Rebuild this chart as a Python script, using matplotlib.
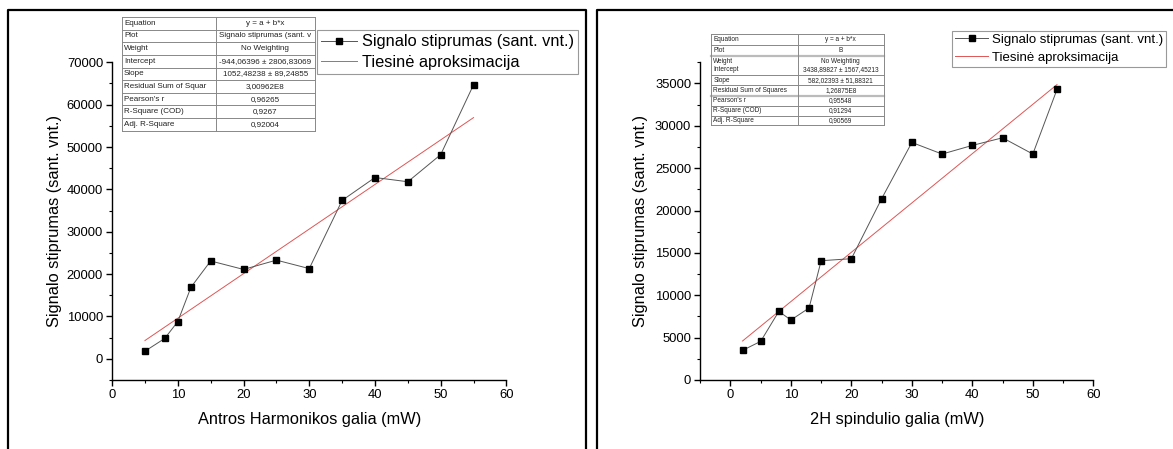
import numpy as np
import matplotlib
matplotlib.use("Agg")
import matplotlib.pyplot as plt
from matplotlib.ticker import MultipleLocator
from matplotlib.patches import Rectangle

plt.rcParams['font.family'] = ['Liberation Sans', 'DejaVu Sans']

# left chart data
galia_sh = [5, 8, 10, 12, 15, 20, 25, 30, 35, 40, 45, 50, 55]
signalas_sh = [1800, 4800, 8800, 16900, 23100, 21100, 23300, 21300,
               37400, 42800, 41800, 48200, 64700]
fit1_a = -944.06396
fit1_b = 1052.48238

# right chart data
galia_2h = [2, 5, 8, 10, 13, 15, 20, 25, 30, 35, 40, 45, 50, 54]
signalas_2h = [3500, 4560, 8100, 7080, 8500, 14080, 14320, 21400,
               28040, 26670, 27690, 28590, 26670, 34300]
fit2_a = 3438.89827
fit2_b = 582.02393

# fit result tables
tab1_labels = ["Equation", "Plot", "Weight", "Intercept", "Slope",
               "Residual Sum of Squar", "Pearson's r", "R-Square (COD)",
               "Adj. R-Square"]
tab1_values = ["y = a + b*x", "Signalo stiprumas (sant. v", "No Weighting",
               "-944,06396 ± 2806,83069", "1052,48238 ± 89,24855",
               "3,00962E8", "0,96265", "0,9267", "0,92004"]
tab2_labels = ["Equation", "Plot", "Weight\nIntercept", "Slope",
               "Residual Sum of Squares", "Pearson's r", "R-Square (COD)",
               "Adj. R-Square"]
tab2_values = ["y = a + b*x", "B", "No Weighting\n3438,89827 ± 1567,45213",
               "582,02393 ± 51,88321", "1,26875E8", "0,95548", "0,91294",
               "0,90569"]

leg_data = "Signalo stiprumas (sant. vnt.)"
leg_fit = "Tiesinė aproksimacija"
ylab = "Signalo stiprumas (sant. vnt.)"

W, H = 1173, 449
fig = plt.figure(figsize=(W / 100, H / 100), dpi=100)


def setup_axes(ax, xlabel):
    for s in ['top', 'right']:
        ax.spines[s].set_visible(False)
    for s in ['left', 'bottom']:
        ax.spines[s].set_linewidth(1.0)
    ax.tick_params(which='major', direction='out', length=4, width=1.0,
                   labelsize=9.4)
    ax.tick_params(axis='x', which='major', pad=2.5)
    ax.tick_params(axis='y', which='major', pad=2.5)
    ax.tick_params(which='minor', direction='out', length=2.5, width=0.8)
    ax.set_xlabel(xlabel, fontsize=11.8)
    ax.set_ylabel(ylab, fontsize=11.8)
    ax.yaxis.set_label_coords(-0.128, 0.5)
    ax.xaxis.set_label_coords(0.5, -0.10)


def draw_series(ax, x, y, a, b):
    ax.plot(x, y, color='#555555', lw=0.7, marker='s', ms=4.8,
            mfc='black', mec='black', label=leg_data, zorder=3)
    xf = np.array([min(x), max(x)])
    ax.plot(xf, a + b * xf, color='#e05555', lw=0.7, label=leg_fit, zorder=2)


# left panel
ax1 = fig.add_axes([112.1 / W, 1 - 380 / H, 394.3 / W, 317.7 / H])
draw_series(ax1, galia_sh, signalas_sh, fit1_a, fit1_b)
ax1.set_xlim(0, 60)
ax1.set_ylim(-5000, 70000)
ax1.xaxis.set_major_locator(MultipleLocator(10))
ax1.xaxis.set_minor_locator(MultipleLocator(5))
ax1.yaxis.set_major_locator(MultipleLocator(10000))
ax1.yaxis.set_minor_locator(MultipleLocator(5000))
setup_axes(ax1, "Antros Harmonikos galia (mW)")
ax1.legend(loc='upper left', bbox_to_anchor=(317 / W, 1 - 30 / H),
           bbox_transform=fig.transFigure, fontsize=11.8, fancybox=False,
           edgecolor='#999999', framealpha=1, borderpad=0.26,
           labelspacing=0.34, handlelength=2.16, handletextpad=0.34,
           borderaxespad=0, numpoints=1).get_frame().set_linewidth(0.8)

# right panel
ax2 = fig.add_axes([700.2 / W, 1 - 380 / H, 393.1 / W, 317.7 / H])
draw_series(ax2, galia_2h, signalas_2h, fit2_a, fit2_b)
ax2.set_xlim(-5, 60)
ax2.set_ylim(0, 37500)
ax2.xaxis.set_major_locator(MultipleLocator(10))
ax2.xaxis.set_minor_locator(MultipleLocator(5))
ax2.yaxis.set_major_locator(MultipleLocator(5000))
ax2.yaxis.set_minor_locator(MultipleLocator(2500))
setup_axes(ax2, "2H spindulio galia (mW)")
ax2.yaxis.set_label_coords(-0.133, 0.5)
ax2.legend(loc='upper left', bbox_to_anchor=(952 / W, 1 - 30.7 / H),
           bbox_transform=fig.transFigure, fontsize=9.5, fancybox=False,
           edgecolor='#999999', framealpha=1, borderpad=0.24,
           labelspacing=0.41, handlelength=2.5, handletextpad=0.3,
           borderaxespad=0, numpoints=1).get_frame().set_linewidth(0.8)

# overlay in pixel coords for frames and tables
ov = fig.add_axes([0, 0, 1, 1])
ov.set_xlim(0, W)
ov.set_ylim(H, 0)
ov.axis('off')
ov.set_zorder(5)
ov.patch.set_alpha(0)

ov.plot([8, 8, 586, 586], [H, 10, 10, H], color='black', lw=1.6)
ov.plot([596.5, 596.5, W + 5], [H, 10, 10], color='black', lw=1.6)


def draw_table(x0, xs, x1, edges, labels, values, fs, thick=()):
    ov.add_patch(Rectangle((x0, edges[0]), x1 - x0, edges[-1] - edges[0],
                           facecolor='white', edgecolor='none', zorder=1))
    for i, y in enumerate(edges):
        lw = 1.6 if i in thick else 0.7
        col = '#bbbbbb' if i in thick else '#888888'
        ov.plot([x0, x1], [y, y], color=col, lw=lw, zorder=2)
    for x in (x0, xs, x1):
        ov.plot([x, x], [edges[0], edges[-1]], color='#888888', lw=0.7,
                zorder=2)
    for i, (lab, val) in enumerate(zip(labels, values)):
        yc = (edges[i] + edges[i + 1]) / 2
        ov.text(x0 + 2, yc, lab, ha='left', va='center', fontsize=fs,
                color='#222222', linespacing=1.25, zorder=3)
        ov.text((xs + x1) / 2, yc, val, ha='center', va='center',
                fontsize=fs, color='#222222', linespacing=1.25, zorder=3)


edges1 = np.linspace(17, 130.7, len(tab1_labels) + 1)
draw_table(122, 215.7, 315, edges1, tab1_labels, tab1_values, 5.8)

edges2 = [34, 45, 55.7, 75, 85.3, 95.7, 106, 116, 125.3]
draw_table(711.4, 797.6, 884, edges2, tab2_labels, tab2_values, 4.7,
           thick=(2, 5))

fig.savefig("out.png", dpi=100)
